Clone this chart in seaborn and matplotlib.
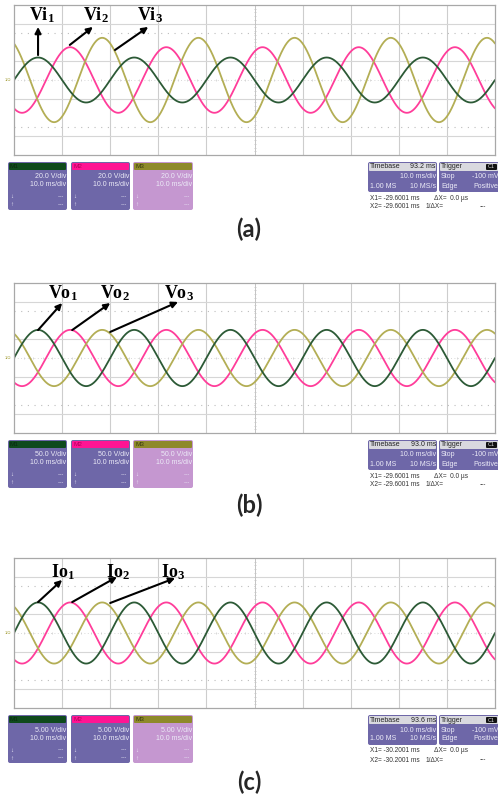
import numpy as np
import pandas as pd
import matplotlib
matplotlib.use('Agg')
import matplotlib.pyplot as plt
import matplotlib.transforms as mtransforms
from matplotlib.patches import FancyBboxPatch
import seaborn as sns

panel_ids = ['(a)', '(b)', '(c)']
phase_names = ['1', '2', '3']
label_prefix = ['Vi', 'Vo', 'Io']

# amplitudes in divisions (8 vertical divisions on screen)
amp_a = [1.2, 1.75, 2.25]
amp_b = [1.5, 1.5, 1.5]
amp_c = [1.63, 1.63, 1.63]

# time of first peak (divisions, 10 ms/div), period 2 div (20 ms)
peak_t = [0.5, 1.167, 1.833]
period_div = 2.0

volt_div = ['20.0 V/div', '50.0 V/div', '5.00 V/div']
timebase = ['93.2 ms', '93.0 ms', '93.6 ms']
cursor_x = ['-29.6001 ms', '-29.6001 ms', '-30.2001 ms']

# arrow tail / tip / label position, in divisions
arrow_tail = [[(0.5, 1.33), (1.16, 1.87), (2.10, 1.6)],
              [(0.5, 1.49), (1.21, 1.49), (2.0, 1.39)],
              [(0.5, 1.65), (1.21, 1.65), (2.0, 1.6)]]
arrow_tip = [[(0.5, 2.83), (1.64, 2.83), (2.79, 2.83)],
             [(1.0, 2.93), (2.0, 2.93), (3.41, 2.99)],
             [(1.0, 2.83), (2.14, 2.99), (3.35, 2.93)]]
label_pos = [[(0.58, 3.47), (1.70, 3.47), (2.83, 3.47)],
             [(1.02, 3.47), (2.10, 3.47), (3.43, 3.47)],
             [(1.02, 3.25), (2.16, 3.25), (3.31, 3.25)]]

trace_colors = ['#2c5a36', '#ff3d9a', '#b3ae55']
head_colors = ['#0f4a1c', '#ff1493', '#8e892a']
head_text = ['#0a2a10', '#b0005a', '#3a3a10']

sns.set_style('white')
plt.rcParams['font.family'] = ['Liberation Sans', 'DejaVu Sans']
plt.rcParams['mathtext.fontset'] = 'custom'
plt.rcParams['mathtext.bf'] = 'Liberation Serif:bold'
plt.rcParams['mathtext.rm'] = 'Liberation Serif:bold'

W, H = 498, 799
fig = plt.figure(figsize=(W / 100, H / 100), dpi=100)
fig.patch.set_facecolor('white')
# pixel coords, y pointing down
PX = mtransforms.Affine2D().scale(1 / W, -1 / H).translate(0, 1) + fig.transFigure

plot_top = [5, 283, 558]
plot_h = 150
x_left, x_right = 14, 495
label_y = [229, 505, 782]

t = np.linspace(0, 10, 1200)


def box(x0, y0, x1, y1, color, r=2):
    p = FancyBboxPatch((x0, y0), x1 - x0, y1 - y0,
                       boxstyle='round,pad=0,rounding_size=%s' % r,
                       transform=PX, facecolor=color, edgecolor='none')
    fig.patches.append(p)


def txt(x, y, s, ha='left', color='#ecebf7', size=5.0, **kw):
    fig.text(x, y, s, ha=ha, va='center', color=color, fontsize=size,
             transform=PX, **kw)


for i, amps in enumerate([amp_a, amp_b, amp_c]):
    top = plot_top[i]
    ax = fig.add_axes([x_left / W, 1 - (top + plot_h) / H,
                       (x_right - x_left) / W, plot_h / H])

    # screen grid
    for xv in range(1, 10):
        if xv != 5:
            ax.axvline(xv, color='#cdcdcd', lw=0.8, zorder=0)
    for yv in [-3, -1, 1, 3]:
        ax.axhline(yv, color='#d6d6d6', lw=0.8, zorder=0)
    for yv in [-2.5, 2.5]:
        ax.axhline(yv, color='#bdbdbd', lw=0.8, ls=(0, (1, 5)), zorder=0)
    ax.axhline(0, color='#cccccc', lw=0.6, ls=(0, (1, 3)), zorder=0)
    ax.axvline(5, color='#c4c4c4', lw=0.7, zorder=0)
    tx = np.arange(0, 10.01, 0.2)
    ax.plot(tx, np.zeros_like(tx), '|', color='#d2d2d2', ms=1.8, mew=0.6, zorder=0)
    ty = np.arange(-4, 4.01, 0.2)
    ax.plot(np.full_like(ty, 5), ty, '_', color='#c6c6c6', ms=2.0, mew=0.6, zorder=0)

    rows = []
    for k in range(3):
        v = amps[k] * np.cos(2 * np.pi * (t - peak_t[k]) / period_div)
        rows.append(pd.DataFrame({'t': t, 'v': v, 'phase': phase_names[k]}))
    df = pd.concat(rows)
    sns.lineplot(data=df, x='t', y='v', hue='phase',
                 palette=dict(zip(phase_names, trace_colors)),
                 hue_order=[phase_names[1], phase_names[2], phase_names[0]],
                 legend=False, lw=1.3, ax=ax, estimator=None, sort=False)

    for k in range(3):
        ax.annotate('', xy=arrow_tip[i][k], xytext=arrow_tail[i][k],
                    arrowprops=dict(arrowstyle='-|>', color='black', lw=1.5,
                                    mutation_scale=9, shrinkA=0, shrinkB=0))
        lx, ly = label_pos[i][k]
        ax.text(lx, ly, r'$\mathbf{%s_{%s}}$' % (label_prefix[i], phase_names[k]),
                ha='center', va='center', fontsize=13, color='black')

    ax.set_xlim(0, 10)
    ax.set_ylim(-4, 4)
    ax.set_xticks([])
    ax.set_yticks([])
    ax.set_xlabel('')
    ax.set_ylabel('')
    for s in ax.spines.values():
        s.set_color('#a8a8a8')
        s.set_linewidth(0.9)

    # small ground marker
    cy = top + plot_h / 2
    txt(5, cy, '1/Ω', color='#a09a30', size=3)

    # channel info boxes
    y0 = top + plot_h + 7
    for k, (bx0, bx1) in enumerate([(8, 67), (71, 130), (133, 193)]):
        body = '#c597d0' if k == 2 else '#6e67a8'
        box(bx0, y0, bx1, y0 + 48, body)
        box(bx0 + 1, y0 + 1, bx1 - 1, y0 + 8, head_colors[k], r=1)
        txt(bx0 + 2, y0 + 4.5, 'M%d' % (k + 1), color=head_text[k], size=4.6)
        txt(bx1 - 1, y0 + 15, volt_div[i], ha='right')
        txt(bx1 - 1, y0 + 23, '10.0 ms/div', ha='right')
        txt(bx0 + 2, y0 + 35, '↓', size=4.5)
        txt(bx1 - 3, y0 + 35, '---', ha='right', size=4.5)
        txt(bx0 + 2, y0 + 43, '↑', size=4.5)
        txt(bx1 - 3, y0 + 43, '---', ha='right', size=4.5)

    # timebase / trigger
    box(368, y0, 437, y0 + 30, '#6e67a8')
    box(369, y0 + 1, 436, y0 + 9, '#d9d9df', r=1)
    txt(370, y0 + 5, 'Timebase', color='#222222')
    txt(436, y0 + 5, timebase[i], ha='right', color='#222222')
    txt(436, y0 + 15, '10.0 ms/div', ha='right')
    txt(370, y0 + 24, '1.00 MS')
    txt(436, y0 + 24, '10 MS/s', ha='right')

    box(439, y0, 500, y0 + 30, '#6e67a8')
    box(440, y0 + 1, 499, y0 + 9, '#d9d9df', r=1)
    txt(441, y0 + 5, 'Trigger', color='#222222')
    box(486, y0 + 2, 497, y0 + 8, '#111111', r=1)
    txt(491.5, y0 + 5, 'C1', ha='center', color='#dddddd', size=4)
    txt(441, y0 + 15, 'Stop')
    txt(498, y0 + 15, '-100 mV', ha='right')
    txt(441, y0 + 24, 'Edge')
    txt(498, y0 + 24, 'Positive', ha='right')

    txt(370, y0 + 36, 'X1= ' + cursor_x[i], color='#333333', size=4.7)
    txt(434, y0 + 36, 'ΔX=  0.0 µs', color='#333333', size=4.7)
    txt(370, y0 + 45, 'X2= ' + cursor_x[i], color='#333333', size=4.7)
    txt(426, y0 + 45, '1/ΔX=', color='#333333', size=4.7)
    txt(480, y0 + 45, '---', color='#333333', size=4.7)

    fig.text(249 / W, 1 - label_y[i] / H, panel_ids[i], ha='center', va='center',
             fontsize=17, fontweight='bold', family=['Lato', 'DejaVu Sans'])

fig.savefig('out.png', dpi=100)
